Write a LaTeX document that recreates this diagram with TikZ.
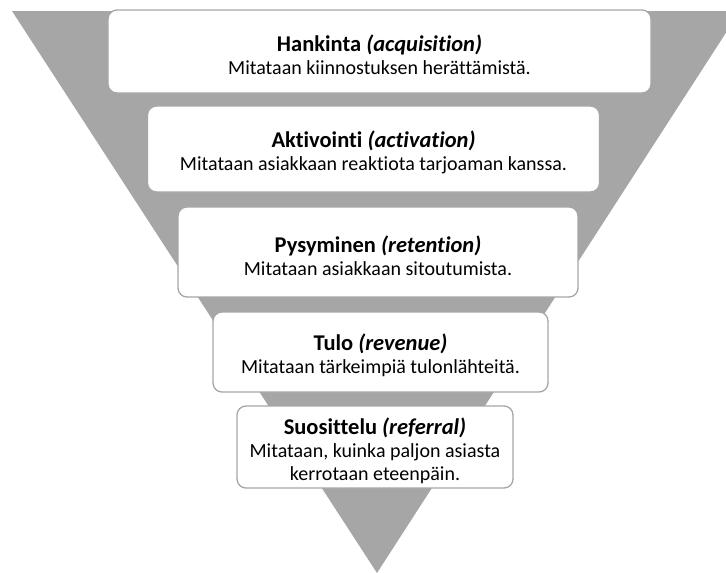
\documentclass[tikz,border=0pt]{standalone}
\usepackage{fontspec}
\setmainfont[RawFeature=-liga]{Carlito}
\definecolor{funnelgray}{HTML}{A6A6A6}
\definecolor{boxline}{HTML}{A6A6A6}
\tikzset{
  stagebox/.style={draw=boxline, line width=1.3pt, fill=white, rounded corners=9pt,
    align=center, inner sep=0pt, font=\fontsize{20}{23}\selectfont},
}
\newcommand{\stagetitle}[2]{{\fontsize{22.5}{23}\selectfont\rule{0pt}{24pt}\bfseries #1 \textit{(#2)}}}
\begin{document}
\begin{tikzpicture}[x=1pt,y=-1pt]
\useasboundingbox (0,0) rectangle (726,573);
\fill[funnelgray] (12,11) -- (740,11) -- (377,573) -- cycle;
\node[stagebox, minimum width=543pt, minimum height=83pt] (b1) at (379.5,51.5)
  {\stagetitle{Hankinta}{acquisition}\\Mitataan kiinnostuksen herättämistä.};
\node[stagebox, minimum width=452pt, minimum height=86pt] (b2) at (373.5,149)
  {\stagetitle{Aktivointi}{activation}\\Mitataan asiakkaan reaktiota tarjoaman kanssa.};
\node[stagebox, minimum width=400pt, minimum height=90pt] (b3) at (378,252)
  {\stagetitle{Pysyminen}{retention}\\Mitataan asiakkaan sitoutumista.};
\node[stagebox, minimum width=335pt, minimum height=80pt] (b4) at (380.5,352)
  {\stagetitle{Tulo}{revenue}\\Mitataan tärkeimpiä tulonlähteitä.};
\node[stagebox, minimum width=276pt, minimum height=82pt] (b5) at (375,447)
  {\stagetitle{Suosittelu}{referral}\\Mitataan, kuinka paljon asiasta\\kerrotaan eteenpäin.};
\end{tikzpicture}
\end{document}
